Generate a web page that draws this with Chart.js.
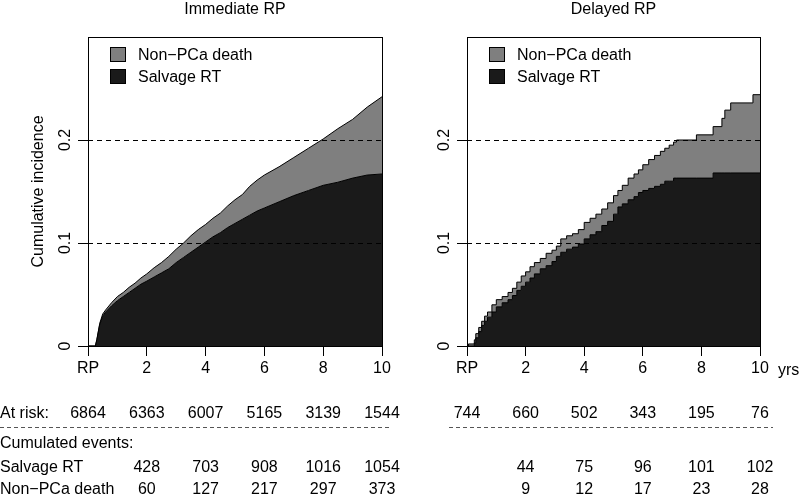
<!DOCTYPE html>
<html><head><meta charset="utf-8">
<script src="https://cdn.jsdelivr.net/npm/chart.js@4.4.0/dist/chart.umd.min.js"></script>
<style>
html,body{margin:0;padding:0;background:#fff;}
#wrap{position:relative;width:800px;height:496px;overflow:hidden;background:#fff;}
canvas{position:absolute;top:0;}
#c1{left:0}#c2{left:400px}
</style></head><body>
<div id="wrap"><canvas id="c1" width="400" height="496"></canvas><canvas id="c2" width="400" height="496"></canvas></div>
<script>
// ---- data ----
const xTicks = [0, 2, 4, 6, 8, 10];
const xTickLabels = ['RP', '2', '4', '6', '8', '10'];
const seriesNames = ['Non\u2212PCa death', 'Salvage RT'];
const panelTitles = ['Immediate RP', 'Delayed RP'];

const immTimes = [0, 0.25, 0.3, 0.4, 0.5, 0.6, 0.8, 1.0, 1.2, 1.4, 1.6, 1.8, 2.0, 2.25, 2.5, 2.75, 3.0, 3.25, 3.5, 3.75, 4.0, 4.25, 4.5, 4.75, 5.0, 5.25, 5.5, 5.75, 6.0, 6.5, 7.0, 7.5, 8.0, 8.5, 9.0, 9.5, 10];
const immSalvageRT = [0, 0, 0.006, 0.021, 0.029, 0.033, 0.039, 0.044, 0.048, 0.052, 0.056, 0.060, 0.063, 0.067, 0.071, 0.075, 0.081, 0.086, 0.091, 0.096, 0.101, 0.106, 0.110, 0.115, 0.119, 0.123, 0.127, 0.131, 0.134, 0.140, 0.146, 0.151, 0.156, 0.159, 0.163, 0.166, 0.167];
const immNonPCaDeath = [0, 0, 0, 0.001, 0.002, 0.002, 0.003, 0.004, 0.004, 0.005, 0.005, 0.006, 0.007, 0.009, 0.010, 0.012, 0.013, 0.014, 0.016, 0.017, 0.017, 0.018, 0.019, 0.021, 0.023, 0.024, 0.028, 0.030, 0.032, 0.034, 0.037, 0.041, 0.045, 0.052, 0.057, 0.066, 0.075];

const delTimes = [0, 0.05, 0.25, 0.3, 0.4, 0.5, 0.6, 0.7, 0.85, 1.0, 1.2, 1.4, 1.55, 1.7, 1.85, 2.0, 2.15, 2.3, 2.5, 2.7, 2.9, 3.05, 3.2, 3.4, 3.6, 3.8, 4.0, 4.2, 4.4, 4.6, 4.8, 5.0, 5.15, 5.3, 5.5, 5.7, 5.85, 6.0, 6.2, 6.4, 6.6, 6.75, 6.9, 7.05, 7.15, 7.83, 8.4, 8.7, 8.8, 9.0, 9.76, 10];
const delSalvageRT = [0, 0, 0.003, 0.008, 0.014, 0.020, 0.024, 0.028, 0.033, 0.038, 0.042, 0.045, 0.049, 0.054, 0.058, 0.062, 0.066, 0.070, 0.075, 0.078, 0.082, 0.087, 0.091, 0.094, 0.096, 0.099, 0.104, 0.108, 0.111, 0.117, 0.121, 0.128, 0.135, 0.138, 0.142, 0.145, 0.149, 0.151, 0.153, 0.155, 0.157, 0.160, 0.160, 0.163, 0.163, 0.163, 0.168, 0.168, 0.168, 0.168, 0.168, 0.168];
const delNonPCaDeath = [0, 0.002, 0.003, 0.004, 0.004, 0.004, 0.005, 0.005, 0.007, 0.007, 0.006, 0.007, 0.007, 0.008, 0.010, 0.010, 0.011, 0.011, 0.010, 0.012, 0.011, 0.010, 0.013, 0.013, 0.013, 0.014, 0.016, 0.016, 0.017, 0.016, 0.018, 0.018, 0.016, 0.018, 0.021, 0.022, 0.022, 0.025, 0.028, 0.030, 0.032, 0.032, 0.035, 0.035, 0.037, 0.042, 0.045, 0.053, 0.061, 0.068, 0.076, 0.076];

const immAtRisk = [6864, 6363, 6007, 5165, 3139, 1544];
const immSalvageEvents = [null, 428, 703, 908, 1016, 1054];
const immNonPCaEvents = [null, 60, 127, 217, 297, 373];
const delAtRisk = [744, 660, 502, 343, 195, 76];
const delSalvageEvents = [null, 44, 75, 96, 101, 102];
const delNonPCaEvents = [null, 9, 12, 17, 23, 28];

// ---- drawing ----
const FONT = '"Liberation Sans", Arial, Helvetica, sans-serif';
Chart.defaults.font.family = FONT;
Chart.defaults.font.size = 16;
Chart.defaults.color = '#000';
const DARK = '#1a1a1a', GREY = '#7f7f7f';

function panelPlugin(cfg) {
  return {
    id: 'panel_' + cfg.id,
    afterDraw(chart) {
      const ctx = chart.ctx, a = chart.chartArea, xs = chart.scales.x, ys = chart.scales.y;
      ctx.save();
      ctx.font = '16px ' + FONT;
      ctx.fillStyle = '#000';
      // box
      ctx.strokeStyle = '#000'; ctx.lineWidth = 1; ctx.setLineDash([]);
      ctx.strokeRect(Math.round(a.left) + 0.5, Math.round(a.top) + 0.5, Math.round(a.right - a.left), Math.round(a.bottom - a.top));
      // title
      ctx.textAlign = 'center'; ctx.textBaseline = 'alphabetic';
      ctx.fillText(cfg.title, (a.left + a.right) / 2, 13.5);
      // legend
      const legCols = [GREY, DARK];
      for (let i = 0; i < 2; i++) {
        const ty = a.top + 10 + i * 22;
        ctx.fillStyle = legCols[i];
        ctx.fillRect(Math.round(a.left + 22) + 0.5, Math.round(ty) + 0.5, 15, 14);
        ctx.strokeRect(Math.round(a.left + 22) + 0.5, Math.round(ty) + 0.5, 15, 14);
        ctx.fillStyle = '#000';
        ctx.textAlign = 'left';
        ctx.fillText(seriesNames[i], a.left + 50, ty + 13);
      }
      // y tick labels (rotated, R style)
      ys.ticks.forEach(t => {
        const y = ys.getPixelForValue(t.value);
        ctx.save();
        ctx.translate(a.left - 18, y);
        ctx.rotate(-Math.PI / 2);
        ctx.textAlign = 'center'; ctx.textBaseline = 'alphabetic';
        ctx.fillText(String(Math.round(t.value * 10) / 10), 0, 0);
        ctx.restore();
      });
      // y title
      if (cfg.yTitle) {
        ctx.save();
        ctx.translate(42.5, (a.top + a.bottom) / 2);
        ctx.rotate(-Math.PI / 2);
        ctx.textAlign = 'center'; ctx.textBaseline = 'alphabetic';
        ctx.fillText(cfg.yTitle, 0, 0);
        ctx.restore();
      }
      if (cfg.yrs) {
        ctx.textAlign = 'left';
        ctx.fillText('yrs', a.right + 18, 374.5);
      }
      // risk table
      const rows = [[cfg.atRisk, 418], [cfg.salEv, 472], [cfg.nonEv, 494]];
      ctx.textAlign = 'center';
      rows.forEach(([arr, by]) => {
        arr.forEach((v, i) => {
          if (v === null) return;
          ctx.fillText(String(v), xs.getPixelForValue(xTicks[i]), by);
        });
      });
      if (cfg.rowLabels) {
        ctx.textAlign = 'left';
        ctx.fillText('At risk:', 0, 418);
        ctx.fillText('Cumulated events:', 0, 448);
        ctx.fillText('Salvage RT', 0, 472);
        ctx.fillText('Non\u2212PCa death', 0, 494);
      }
      ctx.strokeStyle = '#555'; ctx.setLineDash([4, 3]);
      ctx.beginPath(); ctx.moveTo(cfg.dash[0], 427.5); ctx.lineTo(cfg.dash[1], 427.5); ctx.stroke();
      ctx.restore();
    }
  };
}

function makeChart(id, cfg) {
  const sal = cfg.times.map((t, i) => ({ x: t, y: cfg.salvage[i] }));
  const non = cfg.times.map((t, i) => ({ x: t, y: cfg.nonpca[i] }));
  return new Chart(document.getElementById(id), {
    type: 'line',
    data: { datasets: [
      { label: seriesNames[1], data: sal, fill: 'origin', backgroundColor: DARK, borderColor: '#000', borderWidth: 1, pointRadius: 0, stepped: cfg.stepped, tension: 0 },
      { label: seriesNames[0], data: non, fill: '-1', backgroundColor: GREY, borderColor: '#000', borderWidth: 1, pointRadius: 0, stepped: cfg.stepped, tension: 0 }
    ] },
    options: {
      responsive: false, animation: false, devicePixelRatio: 1,
      layout: { padding: { left: 0, top: 37, right: cfg.padRight, bottom: 0 }, autoPadding: false },
      plugins: { legend: { display: false }, tooltip: { enabled: false }, title: { display: false } },
      scales: {
        x: {
          type: 'linear', min: 0, max: 10,
          ticks: { stepSize: 2, callback: v => xTickLabels[xTicks.indexOf(v)], padding: 3, maxRotation: 0, minRotation: 0, autoSkip: false, color: '#000', font: { size: 16 } },
          grid: { display: true, drawOnChartArea: false, drawTicks: true, tickLength: 10, tickColor: '#000', tickWidth: 1 },
          border: { display: false },
          afterFit: s => { s.height = 150; s.paddingLeft = 0; s.paddingRight = 0; }
        },
        y: {
          type: 'linear', min: 0, max: 0.3, stacked: true,
          ticks: { stepSize: 0.1, display: false },
          afterBuildTicks: s => { s.ticks = s.ticks.filter(t => t.value < 0.25); },
          grid: { display: true, drawOnChartArea: true, color: c => (c.tick && c.tick.value > 0.01) ? '#000' : 'rgba(0,0,0,0)', lineWidth: 1, drawTicks: true, tickLength: 10, tickColor: '#000', tickWidth: 1, tickBorderDash: [], z: 1 },
          border: { display: false, dash: [5, 4] },
          afterFit: s => { s.width = cfg.yWidth; s.paddingTop = 0; s.paddingBottom = 0; }
        }
      }
    },
    plugins: [panelPlugin(cfg)]
  });
}

makeChart('c1', { id: 'imm', title: panelTitles[0], times: immTimes, salvage: immSalvageRT, nonpca: immNonPCaDeath, stepped: false,
  padRight: 18, yWidth: 88, yTitle: 'Cumulative incidence', rowLabels: true, yrs: false,
  atRisk: immAtRisk, salEv: immSalvageEvents, nonEv: immNonPCaEvents, dash: [0, 390] });
makeChart('c2', { id: 'del', title: panelTitles[1], times: delTimes, salvage: delSalvageRT, nonpca: delNonPCaDeath, stepped: true,
  padRight: 40, yWidth: 67, yTitle: null, rowLabels: false, yrs: true,
  atRisk: delAtRisk, salEv: delSalvageEvents, nonEv: delNonPCaEvents, dash: [49, 373] });
</script>
</body></html>
